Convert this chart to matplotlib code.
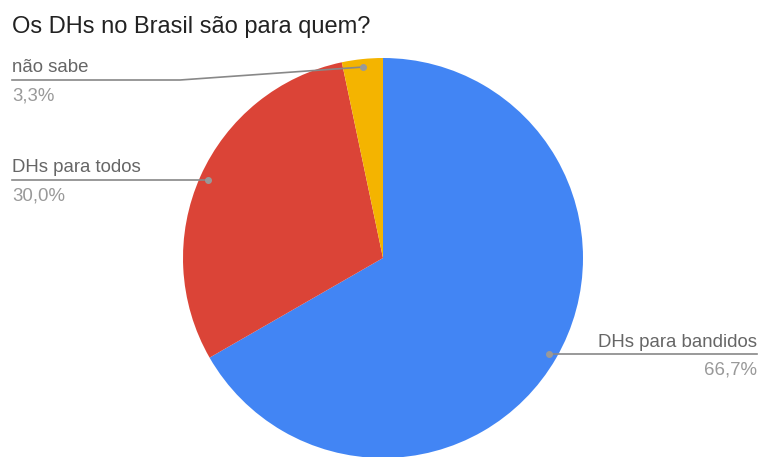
import numpy as np
import matplotlib.pyplot as plt

plt.rcParams['font.family'] = ['Liberation Sans', 'DejaVu Sans']

title = "Os DHs no Brasil são para quem?"
categories = ["DHs para bandidos", "DHs para todos", "não sabe"]
values = [66.7, 30.0, 3.3]
pct_labels = ["66,7%", "30,0%", "3,3%"]
colors = ["#4285F4", "#DB4437", "#F4B400"]

W, H = 761, 457
fig = plt.figure(figsize=(W / 100, H / 100), dpi=100)
ax = fig.add_axes([0, 0, 1, 1])

cx, cy, r = 383, H - 258, 200
wedges, _ = ax.pie(values, colors=colors, startangle=90, counterclock=False,
                   center=(cx, cy), radius=r, frame=True,
                   wedgeprops=dict(linewidth=0))
ax.set_xlim(0, W)
ax.set_ylim(0, H)
ax.set_aspect('equal')
ax.axis('off')

fig.text(12 / W, 1 - 27 / H, title, fontsize=17, color="#222222",
         va='center', ha='left')

# where the label sits: side, and for the small slice a fixed row (px from top)
label_rows = [('right', None), ('left', None), ('left', 80)]
for w, name, pct, (side, row) in zip(wedges, categories, pct_labels, label_rows):
    ang = np.deg2rad((w.theta1 + w.theta2) / 2)
    px = cx + 0.96 * r * np.cos(ang)
    py = cy + 0.96 * r * np.sin(ang)
    y = py if row is None else H - row
    ax.plot(px, py, 'o', ms=4, color="#999999", zorder=5)
    if side == 'right':
        ax.plot([px, 757], [y, y], color="#888888", lw=1.2, zorder=4)
        tx, ha = 757, 'right'
    elif row is None:
        ax.plot([px, 12], [y, y], color="#888888", lw=1.2, zorder=4)
        tx, ha = 12, 'left'
    else:
        ax.plot([px, 180, 12], [py, y, y], color="#888888", lw=1.2, zorder=4)
        tx, ha = 12, 'left'
    ax.text(tx, y + 12, name, fontsize=13.4, color="#666666", ha=ha, va='center')
    ax.text(tx, y - 16, pct, fontsize=13.4, color="#999999", ha=ha, va='center')

fig.savefig("out.png", dpi=100)
